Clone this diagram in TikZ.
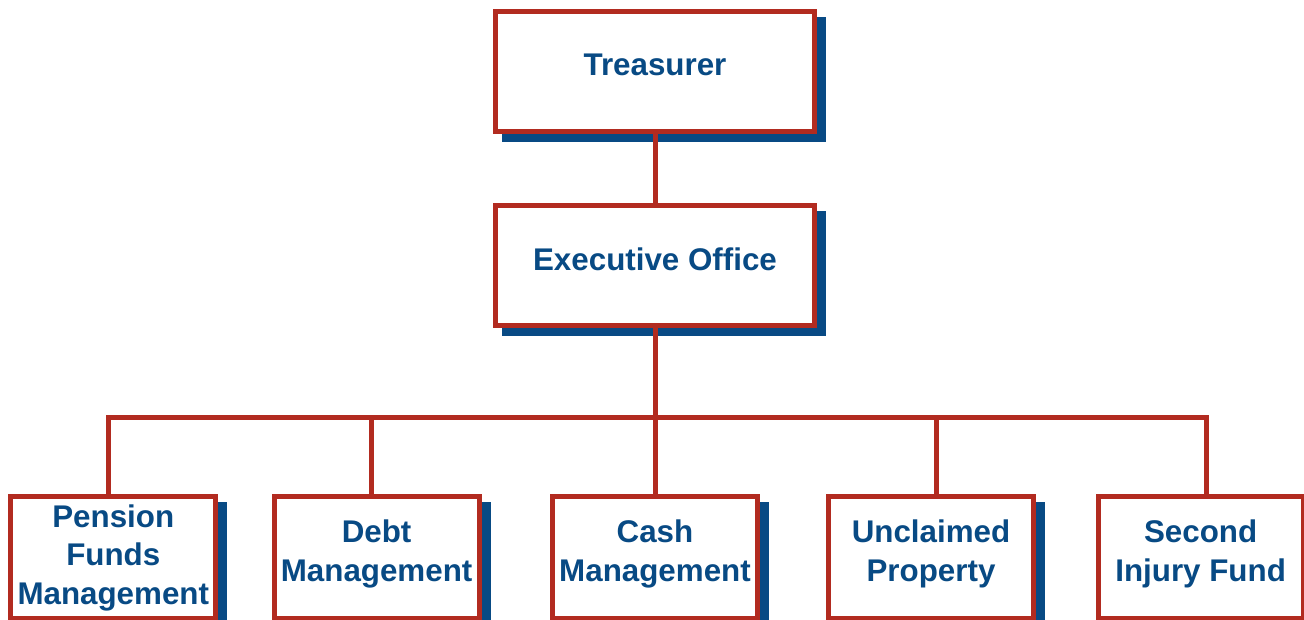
\documentclass[tikz,border=0pt]{standalone}
\usepackage{fontspec}
\setmainfont{Liberation Sans}
\usetikzlibrary{positioning}

\definecolor{orgred}{RGB}{178,43,32}
\definecolor{orgblue}{RGB}{8,74,132}

\begin{document}
\begin{tikzpicture}[
    unit/.style={rectangle, draw=orgred, line width=3.75pt, fill=white, align=center,
        text=orgblue, font=\fontsize{23.5}{29}\selectfont\bfseries, inner sep=2pt, text depth=11pt,
        preaction={draw=orgblue, fill=orgblue, transform canvas={shift={(6.75pt,-6pt)}}}},
    topunit/.style={unit, minimum width=239.25pt, minimum height=90pt},
    subunit/.style={unit, minimum width=153.75pt, minimum height=91.5pt},
    link/.style={draw=orgred, line width=3.75pt, line join=miter}
]

\useasboundingbox (0,0) rectangle (978pt,-465pt);

% Top of the chart
\node[topunit] (treasurer) at (491.25pt,-54pt) {Treasurer};
\node[topunit, below=51.75pt of treasurer] (exec) {Executive Office};

\draw[link] (treasurer) -- (exec);

% Divisions
\node[subunit, below=124.3pt of exec] (cash) {Cash\\Management};
\node[subunit, left=51.3pt of cash] (debt) {Debt\\Management};
\node[subunit, left=40pt of debt, text depth=5pt] (pension) {Pension\\Funds\\Management};
\node[subunit, right=49.5pt of cash] (unclaimed) {Unclaimed\\Property};
\node[subunit, right=44.7pt of unclaimed] (injury) {Second\\Injury Fund};

% Bus line
\coordinate[below=66.75pt of exec] (bus);

\draw[link] ([xshift=-3.5pt]pension.north) |- (bus) -| ([xshift=4.1pt]injury.north);
\draw[link] ([xshift=-4.2pt]debt.north) -- ([xshift=-4.2pt]debt.north |- bus);
\draw[link] (exec) -- (cash);
\draw[link] ([xshift=4pt]unclaimed.north) -- ([xshift=4pt]unclaimed.north |- bus);

\end{tikzpicture}
\end{document}
